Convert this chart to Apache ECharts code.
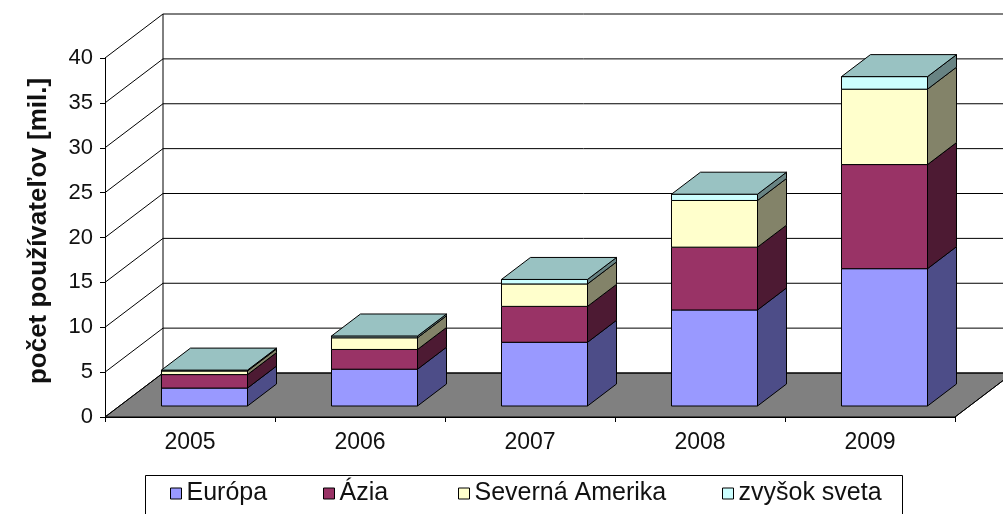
<!DOCTYPE html>
<html>
<head>
<meta charset="utf-8">
<script src="https://cdn.jsdelivr.net/npm/echarts@6/dist/echarts.min.js"></script>
<style>
  html, body { margin: 0; padding: 0; background: #ffffff; }
  #chart { width: 1003px; height: 514px; }
</style>
</head>
<body>
<div id="chart"></div>
<script>
// Users in millions per year and region (stacked)
const categories = ['2005', '2006', '2007', '2008', '2009'];
const europa = [2.0, 4.1, 7.1, 10.7, 15.3];
const azia = [1.5, 2.2, 4.0, 7.0, 11.6];
const severnaAmerika = [0.4, 1.3, 2.5, 5.2, 8.4];
const zvysokSveta = [0.1, 0.2, 0.5, 0.7, 1.4];
const seriesNames = ['Európa', 'Ázia', 'Severná Amerika', 'zvyšok sveta'];
const gridTicks = [0, 5, 10, 15, 20, 25, 30, 35, 40];

// Pseudo-3D look: depth vector of the plot box and where the bars sit inside it
const DEPTH_X = 58, DEPTH_Y = -44;
const BAR_FRONT = 0.25, BAR_DEPTH = 0.5, BAR_RATIO = 0.506;
const FONT = "'Liberation Sans', Arial, sans-serif";
const EDGE = '#000000';

const faceColors = [
  { front: '#9999FF', side: '#4D4D88', top: '#7A7ACC' },
  { front: '#993366', side: '#4D1A33', top: '#7A2952' },
  { front: '#FFFFCC', side: '#838369', top: '#CCCCA3' },
  { front: '#CCFFFF', side: '#688383', top: '#99C2C2' }
];

const stacks = [europa, azia, severnaAmerika, zvysokSveta];

// [categoryIndex, base, top] for each stacked segment
function segmentData(k) {
  return categories.map((c, i) => {
    let base = 0;
    for (let j = 0; j < k; j++) base += stacks[j][i];
    return [i, base, base + stacks[k][i]];
  });
}

function barRenderer(k) {
  const isTop = k === stacks.length - 1;
  return function (params, api) {
    const i = api.value(0), lo = api.value(1), hi = api.value(2);
    const p0 = api.coord([i, lo]);
    const p1 = api.coord([i, hi]);
    const bw = api.size([1, 0])[0] * BAR_RATIO;
    const ox = DEPTH_X * BAR_FRONT, oy = DEPTH_Y * BAR_FRONT;
    const dx = DEPTH_X * BAR_DEPTH, dy = DEPTH_Y * BAR_DEPTH;
    const L = p0[0] - bw / 2 + ox, R = p0[0] + bw / 2 + ox;
    const yb = p0[1] + oy, yt = p1[1] + oy;
    const c = faceColors[k];
    const st = (fill) => ({ fill: fill, stroke: EDGE, lineWidth: 1 });
    const children = [
      { type: 'polygon', shape: { points: [[L, yb], [R, yb], [R, yt], [L, yt]] }, style: st(c.front) },
      { type: 'polygon', shape: { points: [[R, yb], [R + dx, yb + dy], [R + dx, yt + dy], [R, yt]] }, style: st(c.side) }
    ];
    if (isTop) {
      children.push({ type: 'polygon', shape: { points: [[L, yt], [R, yt], [R + dx, yt + dy], [L + dx, yt + dy]] }, style: st(c.top) });
    }
    return { type: 'group', children: children };
  };
}

// Floor, side-wall diagonals and back-wall gridlines
function wallRenderer(params, api) {
  const cs = params.coordSys;
  const v = api.value(0);
  const p = api.coord([0, v]);
  const x0 = cs.x, x1 = cs.x + cs.width;
  const y = p[1];
  const children = [];
  const line = (a, b) => ({ type: 'line', shape: { x1: a[0], y1: a[1], x2: b[0], y2: b[1] }, style: { stroke: EDGE, lineWidth: 1 } });
  if (v === 0) {
    children.push({
      type: 'polygon',
      shape: { points: [[x0, y], [x1, y], [x1 + DEPTH_X, y + DEPTH_Y], [x0 + DEPTH_X, y + DEPTH_Y]] },
      style: { fill: '#808080', stroke: EDGE, lineWidth: 1 }
    });
    children.push(line([x1, y], [x1 + DEPTH_X, y + DEPTH_Y]));
    const topY = api.coord([0, gridTicks[gridTicks.length - 1]])[1];
    children.push(line([x0 + DEPTH_X, y + DEPTH_Y], [x0 + DEPTH_X, topY + DEPTH_Y]));
  }
  children.push(line([x0, y], [x0 + DEPTH_X, y + DEPTH_Y]));
  children.push(line([x0 + DEPTH_X, y + DEPTH_Y], [x1 + DEPTH_X, y + DEPTH_Y]));
  return { type: 'group', children: children };
}

const chart = echarts.init(document.getElementById('chart'), null, { renderer: 'canvas' });

const series = [{
  name: 'walls',
  type: 'custom',
  renderItem: wallRenderer,
  data: gridTicks.map(v => [v]),
  encode: { y: 0 },
  silent: true,
  clip: false,
  z: 1
}];
stacks.forEach((s, k) => {
  series.push({
    name: seriesNames[k],
    type: 'custom',
    renderItem: barRenderer(k),
    data: segmentData(k),
    encode: { x: 0, y: [1, 2] },
    itemStyle: { color: faceColors[k].front, borderColor: EDGE, borderWidth: 1 },
    clip: false,
    z: 3
  });
});

const legendLeft = [170, 323, 458, 722];
const legends = seriesNames.map((n, k) => ({
  data: [n],
  left: legendLeft[k],
  top: 481,
  padding: 0,
  icon: 'rect',
  itemWidth: 11,
  itemHeight: 11,
  itemGap: 0,
  itemStyle: { borderColor: EDGE, borderWidth: 1 },
  textStyle: { fontFamily: FONT, fontSize: 25, color: '#111' },
  selectedMode: false,
  z: 10
}));

chart.setOption({
  backgroundColor: '#ffffff',
  animation: false,
  grid: { left: 105, right: 48, top: 58, bottom: 97 },
  xAxis: {
    type: 'category',
    data: categories,
    boundaryGap: true,
    axisLine: { lineStyle: { color: EDGE, width: 1 } },
    axisTick: { show: true, length: 5, lineStyle: { color: EDGE } },
    axisLabel: { fontFamily: FONT, fontSize: 23, color: '#111', margin: 14 },
    splitLine: { show: false }
  },
  yAxis: {
    type: 'value',
    min: 0,
    max: 40,
    interval: 5,
    name: 'počet používateľov [mil.]',
    nameLocation: 'middle',
    nameRotate: 90,
    nameGap: 53,
    nameTextStyle: { fontFamily: FONT, fontSize: 26, fontWeight: 'bold', color: '#111', padding: [0, 0, 0, 13] },
    axisLine: { show: true, lineStyle: { color: EDGE, width: 1 } },
    axisTick: { show: true, length: 5, lineStyle: { color: EDGE } },
    axisLabel: { fontFamily: FONT, fontSize: 22, color: '#111', margin: 12 },
    splitLine: { show: false }
  },
  legend: legends,
  graphic: [{
    type: 'rect',
    shape: { x: 145.5, y: 475.5, width: 757, height: 60 },
    style: { fill: '#ffffff', stroke: EDGE, lineWidth: 1 },
    z: 0
  }],
  series: series
});
</script>
</body>
</html>
